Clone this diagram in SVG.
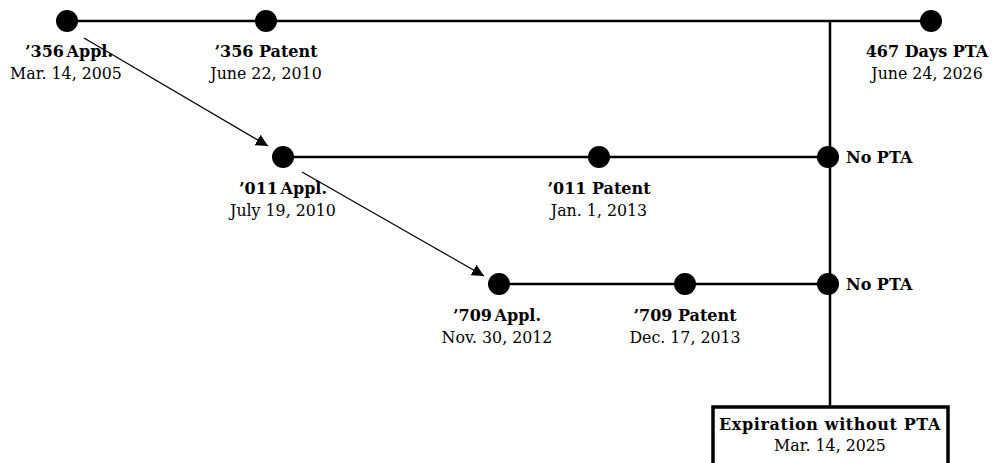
<svg xmlns="http://www.w3.org/2000/svg" width="994" height="463" viewBox="0 0 994 463">
<style>
.ln{stroke:#000;stroke-width:2.5;fill:none}
.ar{stroke:#000;stroke-width:1.2;fill:none}
.dot{fill:#000}
text{font-family:"DejaVu Serif","Liberation Serif",serif;font-size:15.8px;fill:#000;text-anchor:middle}
.b{font-weight:bold;font-size:16px}
.l{text-anchor:start}
.t{word-spacing:-3px}
</style>
<defs>
<marker id="ah" viewBox="0 0 10 10" refX="10" refY="5" markerWidth="12" markerHeight="12" markerUnits="userSpaceOnUse" orient="auto">
<path d="M0,0 L10,5 L0,10 z" fill="#000"/>
</marker>
</defs>
<g id="connectors">
<line class="ln" x1="67" y1="21" x2="931" y2="21"/>
<line class="ln" x1="830" y1="21" x2="830" y2="406"/>
<line class="ln" x1="283" y1="157" x2="830" y2="157"/>
<line class="ln" x1="499" y1="284" x2="830" y2="284"/>
<line class="ar" x1="84" y1="38" x2="268" y2="146" marker-end="url(#ah)"/>
<line class="ar" x1="302" y1="172" x2="484" y2="276" marker-end="url(#ah)"/>
</g>
<g id="n356appl"><circle class="dot" cx="67" cy="21" r="11"/><text class="b t" x="69" y="57">’356 Appl.</text><text x="66" y="79">Mar. 14, 2005</text></g>
<g id="n356pat"><circle class="dot" cx="266" cy="21" r="11"/><text class="b" x="266" y="57">’356 Patent</text><text x="266" y="79">June 22, 2010</text></g>
<g id="n467"><circle class="dot" cx="931" cy="21" r="11"/><text class="b" x="927" y="57">467 Days PTA</text><text x="927" y="79">June 24, 2026</text></g>
<g id="n011appl"><circle class="dot" cx="283" cy="157" r="11"/><text class="b t" x="283" y="194">’011 Appl.</text><text x="283" y="216">July 19, 2010</text></g>
<g id="n011pat"><circle class="dot" cx="599" cy="157" r="11"/><text class="b" x="599" y="194">’011 Patent</text><text x="599" y="216">Jan. 1, 2013</text></g>
<g id="n011end"><circle class="dot" cx="828" cy="157" r="11"/><text class="b l" x="846" y="163">No PTA</text></g>
<g id="n709appl"><circle class="dot" cx="499" cy="284" r="11"/><text class="b t" x="497" y="321">’709 Appl.</text><text x="497" y="343">Nov. 30, 2012</text></g>
<g id="n709pat"><circle class="dot" cx="685" cy="284" r="11"/><text class="b" x="685" y="321">’709 Patent</text><text x="685" y="343">Dec. 17, 2013</text></g>
<g id="n709end"><circle class="dot" cx="828" cy="284" r="11"/><text class="b l" x="846" y="290">No PTA</text></g>
<g id="expiration"><rect x="713" y="407" width="235" height="60" fill="#fff" stroke="#000" stroke-width="3.5"/><text class="b" x="830" y="430" letter-spacing="0.6">Expiration without PTA</text><text x="830" y="451">Mar. 14, 2025</text></g>
</svg>
